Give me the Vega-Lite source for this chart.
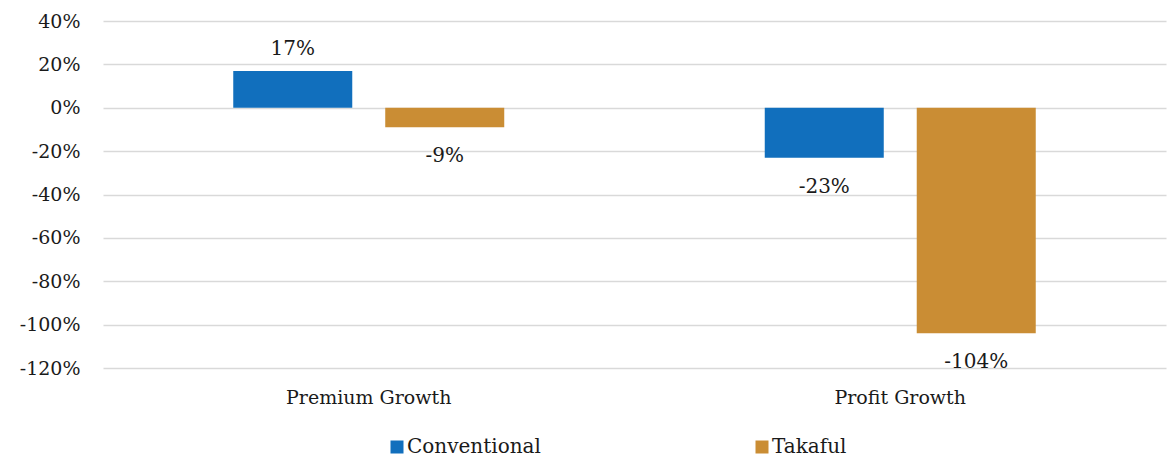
{
  "$schema": "https://vega.github.io/schema/vega-lite/v6.json",
  "autosize": {"type": "none"},
  "padding": {"left": 103, "top": 21, "right": 2, "bottom": 90},
  "width": 1063,
  "height": 347,
  "background": "white",
  "config": {
    "view": {"stroke": null},
    "font": "DejaVu Serif",
    "locale": {"number": {"decimal": ".", "thousands": ",", "grouping": [3], "currency": ["$", ""], "minus": "-"}},
    "axis": {"labelFont": "DejaVu Serif", "labelFontSize": 19, "labelColor": "#1a1a1a"}
  },
  "data": {
    "values": [
      {"metric": "Premium Growth", "type": "Conventional", "value": 0.17},
      {"metric": "Premium Growth", "type": "Takaful", "value": -0.09},
      {"metric": "Profit Growth", "type": "Conventional", "value": -0.23},
      {"metric": "Profit Growth", "type": "Takaful", "value": -1.04}
    ]
  },
  "encoding": {
    "x": {
      "field": "metric", "type": "nominal", "sort": null,
      "scale": {"paddingInner": 0, "paddingOuter": 0},
      "axis": {"title": null, "labelAngle": 0, "domain": false, "ticks": false, "labelPadding": 20, "grid": false}
    },
    "xOffset": {
      "field": "type", "type": "nominal", "sort": ["Conventional", "Takaful"],
      "scale": {"paddingInner": 0.217, "paddingOuter": 0.857}
    },
    "y": {
      "field": "value", "type": "quantitative",
      "scale": {"domain": [-1.2, 0.4], "nice": false, "zero": false},
      "axis": {
        "title": null, "format": ".0%", "values": [-1.2, -1, -0.8, -0.6, -0.4, -0.2, 0, 0.2, 0.4],
        "domain": false, "ticks": false, "labelPadding": 23,
        "gridColor": "#d9d9d9", "gridWidth": 1.5
      }
    }
  },
  "layer": [
    {
      "mark": {"type": "bar"},
      "encoding": {
        "color": {
          "field": "type", "type": "nominal",
          "scale": {"domain": ["Conventional", "Takaful"], "range": ["#116FBD", "#CA8D34"]},
          "legend": {
            "title": null, "orient": "none", "direction": "horizontal", "columns": 2,
            "legendX": 284, "legendY": 416, "padding": 0,
            "symbolType": "square", "symbolSize": 169, "symbolStrokeWidth": 0,
            "labelFont": "DejaVu Serif", "labelFontSize": 20, "labelColor": "#1a1a1a",
            "labelOffset": 0, "columnPadding": 211
          }
        }
      }
    },
    {
      "transform": [{"filter": "datum.value >= 0"}],
      "mark": {"type": "text", "dy": -16, "baseline": "alphabetic", "fontSize": 20, "color": "#1a1a1a"},
      "encoding": {"text": {"field": "value", "type": "quantitative", "format": ".0%"}}
    },
    {
      "transform": [{"filter": "datum.value < 0"}],
      "mark": {"type": "text", "dy": 35, "baseline": "alphabetic", "fontSize": 20, "color": "#1a1a1a"},
      "encoding": {"text": {"field": "value", "type": "quantitative", "format": ".0%"}}
    }
  ]
}
